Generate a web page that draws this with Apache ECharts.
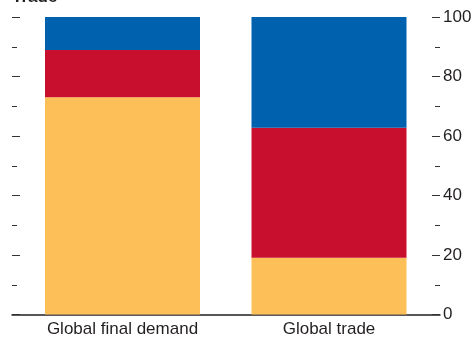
<!DOCTYPE html>
<html>
<head>
<meta charset="utf-8">
<style>
  html, body { margin: 0; padding: 0; background: #fff; }
  #chart { width: 471px; height: 337px; }
</style>
<script src="https://cdn.jsdelivr.net/npm/echarts@6/dist/echarts.min.js"></script>
</head>
<body>
<div id="chart"></div>
<script>
// Share of value (percent) by component
const categories = ['Global final demand', 'Global trade'];
const lowerShare = [73.0, 19.1];   // yellow
const middleShare = [15.9, 43.7];  // red
const upperShare = [11.1, 37.2];   // blue
const tickValues = [0, 20, 40, 60, 80, 100];

const FONT = '"Liberation Sans", Arial, sans-serif';
const TEXT = '#231f20';

const chart = echarts.init(document.getElementById('chart'), null, { renderer: 'canvas' });

function valueAxis(gridIndex, position, showLabels) {
  return {
    type: 'value',
    gridIndex: gridIndex,
    position: position,
    min: tickValues[0],
    max: tickValues[tickValues.length - 1],
    interval: tickValues[1] - tickValues[0],
    axisLine: { show: false },
    axisTick: { show: true, inside: true, length: 8, lineStyle: { color: '#333', width: 1 } },
    minorTick: { show: true, splitNumber: 2, length: 5, lineStyle: { color: '#333', width: 1 } },
    splitLine: { show: false },
    axisLabel: {
      show: showLabels,
      margin: 3,
      color: TEXT,
      fontFamily: FONT,
      fontSize: 17
    }
  };
}

chart.setOption({
  animation: false,
  graphic: [{
    type: 'text',
    left: 12,
    top: -11,
    style: { text: 'Trade', font: 'bold 17px ' + FONT, fill: TEXT }
  }],
  grid: [
    { left: 19.25, right: 38.75, top: 17, bottom: 22.5, outerBoundsMode: 'none', containLabel: false },
    { left: 12, right: 31, top: 17, bottom: 22.5, outerBoundsMode: 'none', containLabel: false }
  ],
  xAxis: [
    {
      type: 'category',
      gridIndex: 0,
      data: categories,
      axisLine: { show: false },
      axisTick: { show: false },
      axisLabel: { interval: 0, margin: 6, color: TEXT, fontFamily: FONT, fontSize: 17 }
    },
    {
      type: 'value',
      gridIndex: 1,
      min: 0,
      max: 1,
      axisLine: { show: true, onZero: false, lineStyle: { color: '#231f20', width: 1.5 } },
      axisTick: { show: false },
      axisLabel: { show: false },
      splitLine: { show: false }
    }
  ],
  yAxis: [
    { type: 'value', gridIndex: 0, min: 0, max: 100, show: false },
    valueAxis(1, 'left', false),
    valueAxis(1, 'right', true)
  ],
  series: [
    { name: 'lower', type: 'bar', stack: 'total', xAxisIndex: 0, yAxisIndex: 0, barWidth: 155,
      itemStyle: { color: '#fdbf57' }, data: lowerShare },
    { name: 'middle', type: 'bar', stack: 'total', xAxisIndex: 0, yAxisIndex: 0, barWidth: 155,
      itemStyle: { color: '#c8102e' }, data: middleShare },
    { name: 'upper', type: 'bar', stack: 'total', xAxisIndex: 0, yAxisIndex: 0, barWidth: 155,
      itemStyle: { color: '#0061af' }, data: upperShare }
  ]
});
</script>
</body>
</html>
